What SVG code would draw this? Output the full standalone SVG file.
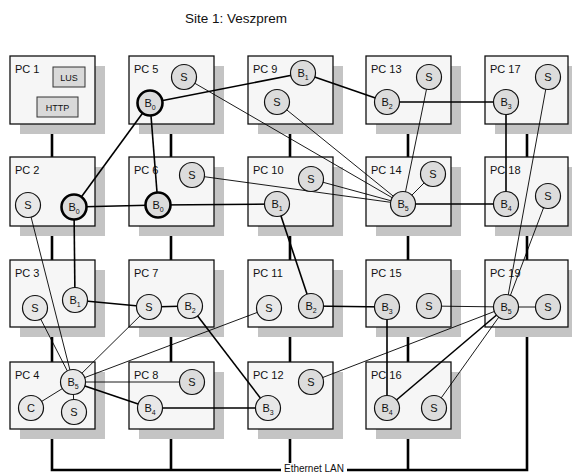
<svg xmlns="http://www.w3.org/2000/svg" width="572" height="473" viewBox="0 0 572 473">
<style>
text{font-family:"Liberation Sans",Arial,sans-serif;fill:#111}
.title{font-size:13.5px}
.pc{font-size:11px}
.shadow{fill:#c4c4c4}
.box{fill:#f6f6f6;stroke:#111;stroke-width:1.3}
.lan{stroke:#000;stroke-width:2.6;fill:none}
.svc{fill:#d9d9d9;stroke:#333;stroke-width:1}
.svct{font-size:9px;text-anchor:middle}
.n{fill:#dcdcdc;stroke:#111;stroke-width:1.2}
.nl{fill:#e8e8e8;stroke:#111;stroke-width:1.2}
.b0{fill:#dcdcdc;stroke:#000;stroke-width:2.6}
.ct{font-size:11px;text-anchor:middle}
.sub{font-size:7px}
.thick{stroke:#000;stroke-width:1.6}
.thin{stroke:#000;stroke-width:0.9}
</style>
<text class="title" x="236" y="23" text-anchor="middle">Site 1: Veszprem</text>
<g id="lan">
<path class="lan" d="M52 124V470H527V124M171 124V470M290 124V470M408 124V470"/>
<rect x="281" y="463" width="66" height="10" fill="#fff"/>
<text x="314" y="472" font-size="10" text-anchor="middle">Ethernet LAN</text>
</g>
<g id="pc1"><rect class="shadow" x="20" y="66" width="85" height="68"/><rect class="box" x="10" y="56" width="85" height="68"/><text class="pc" x="15" y="73">PC 1</text>
<rect class="svc" x="53" y="67" width="32" height="20"/><text class="svct" x="69" y="80.5">LUS</text>
<rect class="svc" x="37" y="97" width="41" height="20"/><text class="svct" x="57.5" y="110.5">HTTP</text></g>
<g id="pc5"><rect class="shadow" x="139" y="66" width="85" height="68"/><rect class="box" x="129" y="56" width="85" height="68"/><text class="pc" x="134" y="73">PC 5</text></g>
<g id="pc9"><rect class="shadow" x="258" y="66" width="85" height="68"/><rect class="box" x="248" y="56" width="85" height="68"/><text class="pc" x="253" y="73">PC 9</text></g>
<g id="pc13"><rect class="shadow" x="376" y="66" width="85" height="68"/><rect class="box" x="366" y="56" width="85" height="68"/><text class="pc" x="371" y="73">PC 13</text></g>
<g id="pc17"><rect class="shadow" x="495" y="66" width="85" height="68"/><rect class="box" x="485" y="56" width="83" height="68"/><text class="pc" x="490" y="73">PC 17</text></g>
<g id="pc2"><rect class="shadow" x="20" y="167" width="85" height="69"/><rect class="box" x="10" y="157" width="85" height="69"/><text class="pc" x="15" y="174">PC 2</text></g>
<g id="pc6"><rect class="shadow" x="139" y="167" width="85" height="69"/><rect class="box" x="129" y="157" width="85" height="69"/><text class="pc" x="134" y="174">PC 6</text></g>
<g id="pc10"><rect class="shadow" x="258" y="167" width="85" height="69"/><rect class="box" x="248" y="157" width="85" height="69"/><text class="pc" x="253" y="174">PC 10</text></g>
<g id="pc14"><rect class="shadow" x="376" y="167" width="85" height="69"/><rect class="box" x="366" y="157" width="85" height="69"/><text class="pc" x="371" y="174">PC 14</text></g>
<g id="pc18"><rect class="shadow" x="495" y="167" width="85" height="69"/><rect class="box" x="485" y="157" width="83" height="69"/><text class="pc" x="490" y="174">PC 18</text></g>
<g id="pc3"><rect class="shadow" x="20" y="270" width="85" height="67"/><rect class="box" x="10" y="260" width="85" height="67"/><text class="pc" x="15" y="277">PC 3</text></g>
<g id="pc7"><rect class="shadow" x="139" y="270" width="85" height="67"/><rect class="box" x="129" y="260" width="85" height="67"/><text class="pc" x="134" y="277">PC 7</text></g>
<g id="pc11"><rect class="shadow" x="258" y="270" width="85" height="67"/><rect class="box" x="248" y="260" width="85" height="67"/><text class="pc" x="253" y="277">PC 11</text></g>
<g id="pc15"><rect class="shadow" x="376" y="270" width="85" height="67"/><rect class="box" x="366" y="260" width="85" height="67"/><text class="pc" x="371" y="277">PC 15</text></g>
<g id="pc19"><rect class="shadow" x="495" y="270" width="85" height="67"/><rect class="box" x="485" y="260" width="83" height="67"/><text class="pc" x="490" y="277">PC 19</text></g>
<g id="pc4"><rect class="shadow" x="20" y="372" width="85" height="67"/><rect class="box" x="10" y="362" width="85" height="67"/><text class="pc" x="15" y="379">PC 4</text></g>
<g id="pc8"><rect class="shadow" x="139" y="372" width="85" height="67"/><rect class="box" x="129" y="362" width="85" height="67"/><text class="pc" x="134" y="379">PC 8</text></g>
<g id="pc12"><rect class="shadow" x="258" y="372" width="85" height="67"/><rect class="box" x="248" y="362" width="85" height="67"/><text class="pc" x="253" y="379">PC 12</text></g>
<g id="pc16"><rect class="shadow" x="376" y="372" width="85" height="67"/><rect class="box" x="366" y="362" width="85" height="67"/><text class="pc" x="371" y="379">PC 16</text></g>
<g id="connectors">
<g class="thick">
<line x1="150" y1="103" x2="303" y2="73"/>
<line x1="303" y1="73" x2="387" y2="102"/>
<line x1="387" y1="102" x2="506" y2="102"/>
<line x1="506" y1="102" x2="506" y2="204"/>
<line x1="506" y1="204" x2="403" y2="204"/>
<line x1="150" y1="103" x2="74" y2="207"/>
<line x1="150" y1="103" x2="158" y2="205"/>
<line x1="74" y1="207" x2="158" y2="205"/>
<line x1="158" y1="205" x2="277" y2="204"/>
<line x1="277" y1="204" x2="311" y2="306"/>
<line x1="74" y1="207" x2="75" y2="300"/>
<line x1="75" y1="300" x2="149" y2="307"/>
<line x1="149" y1="307" x2="190" y2="306"/>
<line x1="190" y1="306" x2="268" y2="408"/>
<line x1="311" y1="306" x2="387" y2="307"/>
<line x1="387" y1="307" x2="387" y2="408"/>
<line x1="506" y1="307" x2="387" y2="408"/>
<line x1="73" y1="382" x2="150" y2="408"/>
<line x1="150" y1="408" x2="268" y2="408"/>
</g>
<g class="thin">
<line x1="403" y1="204" x2="184" y2="77"/>
<line x1="403" y1="204" x2="277" y2="102"/>
<line x1="403" y1="204" x2="192" y2="175"/>
<line x1="403" y1="204" x2="311" y2="179"/>
<line x1="403" y1="204" x2="429" y2="77"/>
<line x1="403" y1="204" x2="433" y2="174"/>
<line x1="506" y1="307" x2="548" y2="77"/>
<line x1="506" y1="307" x2="548" y2="196"/>
<line x1="506" y1="307" x2="429" y2="306"/>
<line x1="506" y1="307" x2="548" y2="307"/>
<line x1="506" y1="307" x2="311" y2="382"/>
<line x1="506" y1="307" x2="434" y2="408"/>
<line x1="73" y1="382" x2="28" y2="205"/>
<line x1="73" y1="382" x2="35" y2="308"/>
<line x1="73" y1="382" x2="149" y2="307"/>
<line x1="73" y1="382" x2="269" y2="308"/>
<line x1="73" y1="382" x2="192" y2="382"/>
<line x1="73" y1="382" x2="31" y2="408"/>
<line x1="73" y1="382" x2="74" y2="412"/>
</g>
</g>
<g id="pc5-s"><circle class="n" cx="184" cy="77" r="12.5"/><text class="ct" x="184" y="81">S</text></g>
<g id="pc5-b0"><circle class="b0" cx="150" cy="103" r="12.5"/><text class="ct" x="150" y="107">B<tspan class="sub" dy="3">0</tspan></text></g>
<g id="pc9-b1"><circle class="n" cx="303" cy="73" r="12.5"/><text class="ct" x="303" y="77">B<tspan class="sub" dy="3">1</tspan></text></g>
<g id="pc9-s"><circle class="n" cx="277" cy="102" r="12.5"/><text class="ct" x="277" y="106">S</text></g>
<g id="pc13-s"><circle class="n" cx="429" cy="77" r="12.5"/><text class="ct" x="429" y="81">S</text></g>
<g id="pc13-b2"><circle class="n" cx="387" cy="102" r="12.5"/><text class="ct" x="387" y="106">B<tspan class="sub" dy="3">2</tspan></text></g>
<g id="pc17-s"><circle class="n" cx="548" cy="77" r="12.5"/><text class="ct" x="548" y="81">S</text></g>
<g id="pc17-b3"><circle class="n" cx="506" cy="102" r="12.5"/><text class="ct" x="506" y="106">B<tspan class="sub" dy="3">3</tspan></text></g>
<g id="pc2-s"><circle class="nl" cx="28" cy="205" r="12.5"/><text class="ct" x="28" y="209">S</text></g>
<g id="pc2-b0"><circle class="b0" cx="74" cy="207" r="12.5"/><text class="ct" x="74" y="211">B<tspan class="sub" dy="3">0</tspan></text></g>
<g id="pc6-s"><circle class="n" cx="192" cy="175" r="12.5"/><text class="ct" x="192" y="179">S</text></g>
<g id="pc6-b0"><circle class="b0" cx="158" cy="205" r="12.5"/><text class="ct" x="158" y="209">B<tspan class="sub" dy="3">0</tspan></text></g>
<g id="pc10-s"><circle class="n" cx="311" cy="179" r="12.5"/><text class="ct" x="311" y="183">S</text></g>
<g id="pc10-b1"><circle class="n" cx="277" cy="204" r="12.5"/><text class="ct" x="277" y="208">B<tspan class="sub" dy="3">1</tspan></text></g>
<g id="pc14-s"><circle class="n" cx="433" cy="174" r="12.5"/><text class="ct" x="433" y="178">S</text></g>
<g id="pc14-b5"><circle class="n" cx="403" cy="204" r="12.5"/><text class="ct" x="403" y="208">B<tspan class="sub" dy="3">5</tspan></text></g>
<g id="pc18-b4"><circle class="n" cx="506" cy="204" r="12.5"/><text class="ct" x="506" y="208">B<tspan class="sub" dy="3">4</tspan></text></g>
<g id="pc18-s"><circle class="n" cx="548" cy="196" r="12.5"/><text class="ct" x="548" y="200">S</text></g>
<g id="pc3-s"><circle class="nl" cx="35" cy="308" r="12.5"/><text class="ct" x="35" y="312">S</text></g>
<g id="pc3-b1"><circle class="nl" cx="75" cy="300" r="12.5"/><text class="ct" x="75" y="304">B<tspan class="sub" dy="3">1</tspan></text></g>
<g id="pc7-s"><circle class="nl" cx="149" cy="307" r="12.5"/><text class="ct" x="149" y="311">S</text></g>
<g id="pc7-b2"><circle class="nl" cx="190" cy="306" r="12.5"/><text class="ct" x="190" y="310">B<tspan class="sub" dy="3">2</tspan></text></g>
<g id="pc11-s"><circle class="nl" cx="269" cy="308" r="12.5"/><text class="ct" x="269" y="312">S</text></g>
<g id="pc11-b2"><circle class="n" cx="311" cy="306" r="12.5"/><text class="ct" x="311" y="310">B<tspan class="sub" dy="3">2</tspan></text></g>
<g id="pc15-b3"><circle class="n" cx="387" cy="307" r="12.5"/><text class="ct" x="387" y="311">B<tspan class="sub" dy="3">3</tspan></text></g>
<g id="pc15-s"><circle class="n" cx="429" cy="306" r="12.5"/><text class="ct" x="429" y="310">S</text></g>
<g id="pc19-b5"><circle class="n" cx="506" cy="307" r="12.5"/><text class="ct" x="506" y="311">B<tspan class="sub" dy="3">5</tspan></text></g>
<g id="pc19-s"><circle class="n" cx="548" cy="307" r="12.5"/><text class="ct" x="548" y="311">S</text></g>
<g id="pc4-b5"><circle class="nl" cx="73" cy="382" r="12.5"/><text class="ct" x="73" y="386">B<tspan class="sub" dy="3">5</tspan></text></g>
<g id="pc4-c"><circle class="nl" cx="31" cy="408" r="12.5"/><text class="ct" x="31" y="412">C</text></g>
<g id="pc4-s"><circle class="nl" cx="74" cy="412" r="12.5"/><text class="ct" x="74" y="416">S</text></g>
<g id="pc8-s"><circle class="n" cx="192" cy="382" r="12.5"/><text class="ct" x="192" y="386">S</text></g>
<g id="pc8-b4"><circle class="nl" cx="150" cy="408" r="12.5"/><text class="ct" x="150" y="412">B<tspan class="sub" dy="3">4</tspan></text></g>
<g id="pc12-s"><circle class="n" cx="311" cy="382" r="12.5"/><text class="ct" x="311" y="386">S</text></g>
<g id="pc12-b3"><circle class="nl" cx="268" cy="408" r="12.5"/><text class="ct" x="268" y="412">B<tspan class="sub" dy="3">3</tspan></text></g>
<g id="pc16-b4"><circle class="n" cx="387" cy="408" r="12.5"/><text class="ct" x="387" y="412">B<tspan class="sub" dy="3">4</tspan></text></g>
<g id="pc16-s"><circle class="n" cx="434" cy="408" r="12.5"/><text class="ct" x="434" y="412">S</text></g>
</svg>
